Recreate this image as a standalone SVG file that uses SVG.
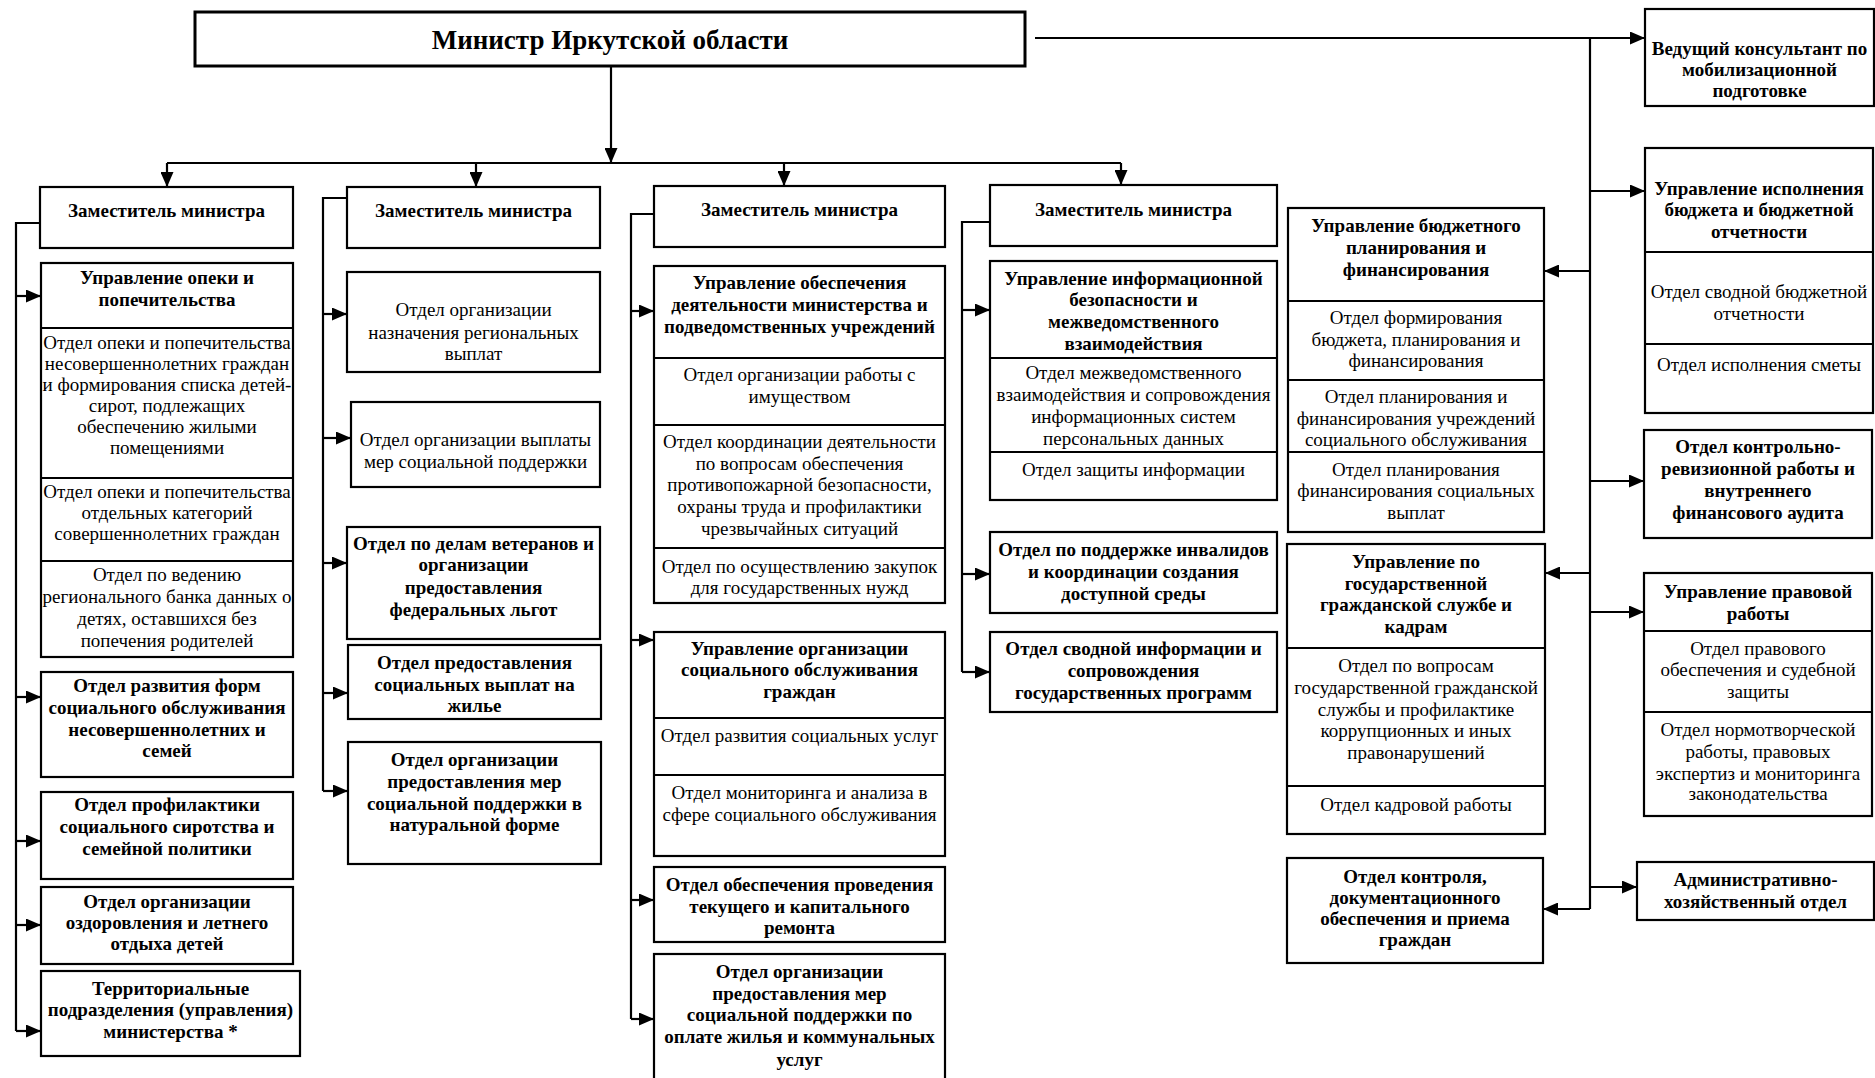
<svg xmlns="http://www.w3.org/2000/svg" width="1875" height="1078" viewBox="0 0 1875 1078">
<defs>
<marker id="ar" markerUnits="userSpaceOnUse" markerWidth="15" markerHeight="13" refX="15" refY="6.5" orient="auto">
<path d="M0,0 L15,6.5 L0,13 z" fill="#000"/>
</marker>
<style>
rect{fill:#fff;stroke:#000;stroke-width:2.2}
.d{stroke:#000;stroke-width:2.2}
.c path{fill:none;stroke:#000;stroke-width:2.2}
.a{marker-end:url(#ar)}
text{font-family:"Liberation Serif","Times New Roman",serif;font-size:19px;text-anchor:middle;fill:#000}
.b{font-weight:bold}
.m{font-size:27px}
</style>
</defs>
<rect x="0" y="0" width="1875" height="1078" style="fill:#fff;stroke:none"/>

<g id="connectors" class="c">
<path d="M611,67 V163" class="a"/>
<path d="M167,163 H1121"/>
<path d="M167,163 V187" class="a"/>
<path d="M476,163 V187" class="a"/>
<path d="M784,163 V186" class="a"/>
<path d="M1121,163 V185" class="a"/>
<path d="M1035,38 H1645" class="a"/>
<path d="M1590,38 V909"/>
<path d="M1590,191 H1645" class="a"/>
<path d="M1590,271 H1544" class="a"/>
<path d="M1590,481 H1644" class="a"/>
<path d="M1590,573 H1545" class="a"/>
<path d="M1590,612 H1644" class="a"/>
<path d="M1590,887 H1637" class="a"/>
<path d="M1590,909 H1543" class="a"/>
<path d="M40,223 H16 V1031"/>
<path d="M16,296 H41" class="a"/>
<path d="M16,697 H41" class="a"/>
<path d="M16,841 H41" class="a"/>
<path d="M16,925 H41" class="a"/>
<path d="M16,1031 H41" class="a"/>
<path d="M347,198 H323 V791"/>
<path d="M323,314 H347" class="a"/>
<path d="M323,438 H351" class="a"/>
<path d="M323,563 H347" class="a"/>
<path d="M323,693 H348" class="a"/>
<path d="M323,791 H348" class="a"/>
<path d="M654,214 H631 V1019"/>
<path d="M631,311 H654" class="a"/>
<path d="M631,640 H654" class="a"/>
<path d="M631,900 H654" class="a"/>
<path d="M631,1019 H654" class="a"/>
<path d="M990,222 H962 V672"/>
<path d="M962,310 H990" class="a"/>
<path d="M962,574 H990" class="a"/>
<path d="M962,672 H990" class="a"/>
</g>

<g id="minister">
<rect x="195" y="12" width="830" height="54" style="stroke-width:3"/>
<text class="b m" x="610" y="49">Министр Иркутской области</text>
</g>

<g id="deputy1">
<rect x="40" y="187" width="253" height="61"/>
<text class="b" x="166.5" y="217">Заместитель министра</text>
</g>
<g id="deputy2">
<rect x="347" y="187" width="253" height="61"/>
<text class="b" x="473.5" y="217">Заместитель министра</text>
</g>
<g id="deputy3">
<rect x="654" y="186" width="291" height="61"/>
<text class="b" x="799.5" y="216">Заместитель министра</text>
</g>
<g id="deputy4">
<rect x="990" y="185" width="287" height="61"/>
<text class="b" x="1133.5" y="216">Заместитель министра</text>
</g>

<g id="upr-opeki">
<rect x="41" y="263" width="252" height="394"/>
<line class="d" x1="41" y1="328" x2="293" y2="328"/>
<line class="d" x1="41" y1="478" x2="293" y2="478"/>
<line class="d" x1="41" y1="561" x2="293" y2="561"/>
<text class="b" x="167"><tspan x="167" y="284">Управление опеки и</tspan><tspan x="167" y="305.5">попечительства</tspan></text>
<text x="167"><tspan x="167" y="349">Отдел опеки и попечительства</tspan><tspan x="167" y="370">несовершеннолетних граждан</tspan><tspan x="167" y="391">и формирования списка детей-</tspan><tspan x="167" y="412">сирот, подлежащих</tspan><tspan x="167" y="433">обеспечению жилыми</tspan><tspan x="167" y="454">помещениями</tspan></text>
<text x="167"><tspan x="167" y="498">Отдел опеки и попечительства</tspan><tspan x="167" y="519">отдельных категорий</tspan><tspan x="167" y="540">совершеннолетних граждан</tspan></text>
<text x="167"><tspan x="167" y="581">Отдел по ведению</tspan><tspan x="167" y="603">регионального банка данных о</tspan><tspan x="167" y="625">детях, оставшихся без</tspan><tspan x="167" y="647">попечения родителей</tspan></text>
</g>
<g id="otd-razvitiya-form">
<rect x="41" y="672" width="252" height="105"/>
<text class="b" x="167"><tspan x="167" y="692">Отдел развития форм</tspan><tspan x="167" y="714">социального обслуживания</tspan><tspan x="167" y="735.5">несовершеннолетних и</tspan><tspan x="167" y="757">семей</tspan></text>
</g>
<g id="otd-profilaktiki">
<rect x="41" y="792" width="252" height="87"/>
<text class="b" x="167"><tspan x="167" y="811">Отдел профилактики</tspan><tspan x="167" y="833">социального сиротства и</tspan><tspan x="167" y="854.5">семейной политики</tspan></text>
</g>
<g id="otd-ozdorovleniya">
<rect x="41" y="887" width="252" height="77"/>
<text class="b" x="167"><tspan x="167" y="908">Отдел организации</tspan><tspan x="167" y="929">оздоровления и летнего</tspan><tspan x="167" y="949.5">отдыха детей</tspan></text>
</g>
<g id="territorialnye">
<rect x="41" y="971" width="259" height="85"/>
<text class="b" x="170.5"><tspan x="170.5" y="994.5">Территориальные</tspan><tspan x="170.5" y="1016">подразделения (управления)</tspan><tspan x="170.5" y="1038">министерства *</tspan></text>
</g>

<g id="otd-naznacheniya">
<rect x="347" y="272" width="253" height="100"/>
<text x="473.5"><tspan x="473.5" y="316">Отдел организации</tspan><tspan x="473.5" y="339">назначения региональных</tspan><tspan x="473.5" y="360">выплат</tspan></text>
</g>
<g id="otd-vyplaty">
<rect x="351" y="402" width="249" height="85"/>
<text x="475.5"><tspan x="475.5" y="446">Отдел организации выплаты</tspan><tspan x="475.5" y="468">мер социальной поддержки</tspan></text>
</g>
<g id="otd-veteranov">
<rect x="347" y="527" width="253" height="112"/>
<text class="b" x="473.5"><tspan x="473.5" y="549.5">Отдел по делам ветеранов и</tspan><tspan x="473.5" y="571">организации</tspan><tspan x="473.5" y="593.5">предоставления</tspan><tspan x="473.5" y="615.5">федеральных льгот</tspan></text>
</g>
<g id="otd-zhilye">
<rect x="348" y="645" width="253" height="74"/>
<text class="b" x="474.5"><tspan x="474.5" y="669">Отдел предоставления</tspan><tspan x="474.5" y="691">социальных выплат на</tspan><tspan x="474.5" y="712">жилье</tspan></text>
</g>
<g id="otd-naturalnoy">
<rect x="348" y="742" width="253" height="122"/>
<text class="b" x="474.5"><tspan x="474.5" y="765.5">Отдел организации</tspan><tspan x="474.5" y="788">предоставления мер</tspan><tspan x="474.5" y="809.5">социальной поддержки в</tspan><tspan x="474.5" y="831">натуральной форме</tspan></text>
</g>

<g id="upr-obespecheniya">
<rect x="654" y="266" width="291" height="337"/>
<line class="d" x1="654" y1="358" x2="945" y2="358"/>
<line class="d" x1="654" y1="425" x2="945" y2="425"/>
<line class="d" x1="654" y1="548" x2="945" y2="548"/>
<text class="b" x="799.5"><tspan x="799.5" y="289">Управление обеспечения</tspan><tspan x="799.5" y="311">деятельности министерства и</tspan><tspan x="799.5" y="333">подведомственных учреждений</tspan></text>
<text x="799.5"><tspan x="799.5" y="380.5">Отдел организации работы с</tspan><tspan x="799.5" y="403">имуществом</tspan></text>
<text x="799.5"><tspan x="799.5" y="448">Отдел координации деятельности</tspan><tspan x="799.5" y="469.5">по вопросам обеспечения</tspan><tspan x="799.5" y="491">противопожарной безопасности,</tspan><tspan x="799.5" y="513">охраны труда и профилактики</tspan><tspan x="799.5" y="534.5">чрезвычайных ситуаций</tspan></text>
<text x="799.5"><tspan x="799.5" y="573">Отдел по осуществлению закупок</tspan><tspan x="799.5" y="593.5">для государственных нужд</tspan></text>
</g>
<g id="upr-soc-obsl">
<rect x="654" y="632" width="291" height="224"/>
<line class="d" x1="654" y1="718" x2="945" y2="718"/>
<line class="d" x1="654" y1="775" x2="945" y2="775"/>
<text class="b" x="799.5"><tspan x="799.5" y="654.5">Управление организации</tspan><tspan x="799.5" y="676">социального обслуживания</tspan><tspan x="799.5" y="698">граждан</tspan></text>
<text x="799.5" y="742">Отдел развития социальных услуг</text>
<text x="799.5"><tspan x="799.5" y="799">Отдел мониторинга и анализа в</tspan><tspan x="799.5" y="821">сфере социального обслуживания</tspan></text>
</g>
<g id="otd-remonta">
<rect x="654" y="867" width="291" height="75"/>
<text class="b" x="799.5"><tspan x="799.5" y="891">Отдел обеспечения проведения</tspan><tspan x="799.5" y="913">текущего и капитального</tspan><tspan x="799.5" y="933.5">ремонта</tspan></text>
</g>
<g id="otd-oplata-zhilya">
<rect x="654" y="954" width="291" height="140"/>
<text class="b" x="799.5"><tspan x="799.5" y="978">Отдел организации</tspan><tspan x="799.5" y="999.5">предоставления мер</tspan><tspan x="799.5" y="1021">социальной поддержки по</tspan><tspan x="799.5" y="1043">оплате жилья и коммунальных</tspan><tspan x="799.5" y="1065.5">услуг</tspan></text>
</g>

<g id="upr-inform">
<rect x="990" y="261" width="287" height="239"/>
<line class="d" x1="990" y1="358" x2="1277" y2="358"/>
<line class="d" x1="990" y1="452" x2="1277" y2="452"/>
<text class="b" x="1133.5"><tspan x="1133.5" y="284.5">Управление информационной</tspan><tspan x="1133.5" y="306">безопасности и</tspan><tspan x="1133.5" y="328">межведомственного</tspan><tspan x="1133.5" y="349.5">взаимодействия</tspan></text>
<text x="1133.5"><tspan x="1133.5" y="379">Отдел межведомственного</tspan><tspan x="1133.5" y="401">взаимодействия и сопровождения</tspan><tspan x="1133.5" y="423">информационных систем</tspan><tspan x="1133.5" y="444.5">персональных данных</tspan></text>
<text x="1133.5" y="475.5">Отдел защиты информации</text>
</g>
<g id="otd-invalidov">
<rect x="990" y="532" width="287" height="81"/>
<text class="b" x="1133.5"><tspan x="1133.5" y="556">Отдел по поддержке инвалидов</tspan><tspan x="1133.5" y="578">и координации создания</tspan><tspan x="1133.5" y="599.5">доступной среды</tspan></text>
</g>
<g id="otd-svodnoy-info">
<rect x="990" y="632" width="287" height="80"/>
<text class="b" x="1133.5"><tspan x="1133.5" y="654.5">Отдел сводной информации и</tspan><tspan x="1133.5" y="677">сопровождения</tspan><tspan x="1133.5" y="699">государственных программ</tspan></text>
</g>

<g id="upr-byudzhetnogo">
<rect x="1288" y="208" width="256" height="324"/>
<line class="d" x1="1288" y1="301" x2="1544" y2="301"/>
<line class="d" x1="1288" y1="380" x2="1544" y2="380"/>
<line class="d" x1="1288" y1="452" x2="1544" y2="452"/>
<text class="b" x="1416"><tspan x="1416" y="232">Управление бюджетного</tspan><tspan x="1416" y="254">планирования и</tspan><tspan x="1416" y="275.5">финансирования</tspan></text>
<text x="1416"><tspan x="1416" y="324">Отдел формирования</tspan><tspan x="1416" y="345.5">бюджета, планирования и</tspan><tspan x="1416" y="367">финансирования</tspan></text>
<text x="1416"><tspan x="1416" y="403">Отдел планирования и</tspan><tspan x="1416" y="424.5">финансирования учреждений</tspan><tspan x="1416" y="446">социального обслуживания</tspan></text>
<text x="1416"><tspan x="1416" y="475.5">Отдел планирования</tspan><tspan x="1416" y="497">финансирования социальных</tspan><tspan x="1416" y="519">выплат</tspan></text>
</g>
<g id="upr-gos-sluzhby">
<rect x="1287" y="544" width="258" height="290"/>
<line class="d" x1="1287" y1="648" x2="1545" y2="648"/>
<line class="d" x1="1287" y1="786" x2="1545" y2="786"/>
<text class="b" x="1416"><tspan x="1416" y="568">Управление по</tspan><tspan x="1416" y="589.5">государственной</tspan><tspan x="1416" y="611">гражданской службе и</tspan><tspan x="1416" y="633">кадрам</tspan></text>
<text x="1416"><tspan x="1416" y="672">Отдел по вопросам</tspan><tspan x="1416" y="694">государственной гражданской</tspan><tspan x="1416" y="715.5">службы и профилактике</tspan><tspan x="1416" y="737">коррупционных и иных</tspan><tspan x="1416" y="759">правонарушений</tspan></text>
<text x="1416" y="810.5">Отдел кадровой работы</text>
</g>
<g id="otd-kontrolya">
<rect x="1287" y="858" width="256" height="105"/>
<text class="b" x="1415"><tspan x="1415" y="883">Отдел контроля,</tspan><tspan x="1415" y="904">документационного</tspan><tspan x="1415" y="924.5">обеспечения и приема</tspan><tspan x="1415" y="945.5">граждан</tspan></text>
</g>

<g id="vedushchiy-konsultant">
<rect x="1645" y="9" width="229" height="97"/>
<text class="b" x="1759.5"><tspan x="1759.5" y="55">Ведущий консультант по</tspan><tspan x="1759.5" y="76">мобилизационной</tspan><tspan x="1759.5" y="97">подготовке</tspan></text>
</g>
<g id="upr-ispolneniya">
<rect x="1645" y="148" width="228" height="265"/>
<line class="d" x1="1645" y1="252" x2="1873" y2="252"/>
<line class="d" x1="1645" y1="344" x2="1873" y2="344"/>
<text class="b" x="1759"><tspan x="1759" y="194.5">Управление исполнения</tspan><tspan x="1759" y="216">бюджета и бюджетной</tspan><tspan x="1759" y="238">отчетности</tspan></text>
<text x="1759"><tspan x="1759" y="298">Отдел сводной бюджетной</tspan><tspan x="1759" y="319.5">отчетности</tspan></text>
<text x="1759" y="370.5">Отдел исполнения сметы</text>
</g>
<g id="otd-revizionnoy">
<rect x="1644" y="430" width="228" height="108"/>
<text class="b" x="1758"><tspan x="1758" y="453">Отдел контрольно-</tspan><tspan x="1758" y="474.5">ревизионной работы и</tspan><tspan x="1758" y="497">внутреннего</tspan><tspan x="1758" y="518.5">финансового аудита</tspan></text>
</g>
<g id="upr-pravovoy">
<rect x="1644" y="573" width="228" height="243"/>
<line class="d" x1="1644" y1="631" x2="1872" y2="631"/>
<line class="d" x1="1644" y1="712" x2="1872" y2="712"/>
<text class="b" x="1758"><tspan x="1758" y="598">Управление правовой</tspan><tspan x="1758" y="619.5">работы</tspan></text>
<text x="1758"><tspan x="1758" y="654.5">Отдел правового</tspan><tspan x="1758" y="676">обеспечения и судебной</tspan><tspan x="1758" y="698">защиты</tspan></text>
<text x="1758"><tspan x="1758" y="736">Отдел нормотворческой</tspan><tspan x="1758" y="758">работы, правовых</tspan><tspan x="1758" y="779.5">экспертиз и мониторинга</tspan><tspan x="1758" y="800">законодательства</tspan></text>
</g>
<g id="adm-hoz-otdel">
<rect x="1637" y="862" width="237" height="58"/>
<text class="b" x="1755.5"><tspan x="1755.5" y="886">Административно-</tspan><tspan x="1755.5" y="908">хозяйственный отдел</tspan></text>
</g>
</svg>
